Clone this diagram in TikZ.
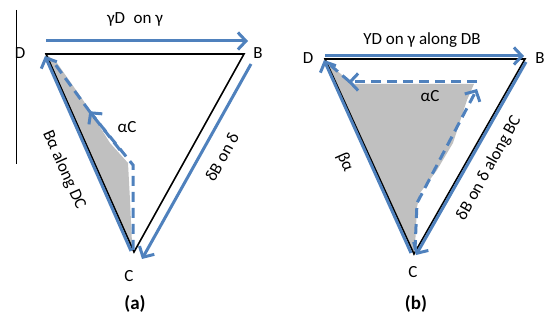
\documentclass[tikz,border=0pt]{standalone}
\usepackage{fontspec}
\setmainfont{Carlito}
\usetikzlibrary{arrows.meta, calc}
\definecolor{edgeblue}{HTML}{4F81BD}
\definecolor{shadegray}{HTML}{C0C0C0}

\begin{document}
\begin{tikzpicture}[x=1pt, y=-1pt,
    side/.style={draw=black, line width=1.6pt},
    bluearrow/.style={draw=edgeblue, line width=3pt, -{Straight Barb[length=8pt, width=17pt]}},
    dasharrow/.style={bluearrow, dash pattern=on 10pt off 6pt},
    lbl/.style={font=\fontsize{17}{19}\selectfont, inner sep=1pt},
    panelcap/.style={font=\fontsize{19}{21}\selectfont\bfseries}]
  \useasboundingbox (0,0) rectangle (546,320);

  % (a)
  \coordinate (aD) at (46,54);
  \coordinate (aB) at (244,54);
  \coordinate (aC) at (134,252);
  \draw[line width=1pt] (16,10) -- (16,164);
  \fill[shadegray] (aD) -- (57,63) -- (83,100) -- (110,143) -- (128,163)
    -- (130,200) -- (132,243) -- (aC) -- cycle;
  \draw[side] (aD) -- (aB) -- (aC) -- cycle;
  \draw[bluearrow] ($(aC)+(-3,-1)$) -- ($(aD)+(-1,2)$);
  \draw[bluearrow] ($(aD)+(0,-13)$) -- ($(aB)+(4,-13)$);
  \draw[bluearrow] ($(aB)+(7,10)$) -- ($(aC)+(8,7)$);
  \draw[dasharrow, -] ($(aC)+(-1,-2)$) -- (133,165) -- (90,112);
  \draw[dasharrow, shorten >=-1pt] (120,150) -- (90,112);
  \draw[dasharrow, -] (90,112) -- ($(aD)+(6,6)$);
  \node[lbl] (aDl) at (20,53) {D};
  \node[lbl] (aBl) at (258,53) {B};
  \node[lbl] (aCl) at (129,276) {C};
  \node[lbl] (aDB) at (135,19) {γD\enspace on γ};
  \node[lbl] (aAC) at (127,127) {αC};
  \node[lbl, rotate=-66] (aDC) at (64,170) {Bα along DC};
  \node[lbl, rotate=61] (aBC) at (222,157) {δB on δ};
  \node[panelcap] (acap) at (135,304) {(a)};

  % (b)
  \coordinate (bD) at (325,59);
  \coordinate (bB) at (525,59);
  \coordinate (bC) at (414,254);
  \fill[shadegray] ($(bD)+(2,3)$) -- (342,75) -- (352,84) -- (474,84) -- (467,100)
    -- (453,143) -- (437,170) -- (420,193) -- (417,207) -- (415,247) -- (bC) -- cycle;
  \draw[side] (bD) -- (bB) -- (bC) -- cycle;
  \draw[bluearrow] ($(bC)+(-3,-1)$) -- ($(bD)+(-1,1)$);
  \draw[bluearrow] ($(bD)+(0,-3)$) -- ($(bB)+(-1,-3)$);
  \draw[bluearrow] ($(bB)+(1,3)$) -- ($(bC)+(2,1)$);
  \draw[dasharrow] ($(bC)+(1,-4)$) -- (417,203) -- (477,89);
  \draw[dasharrow] (477,82) -- (348,82);
  \draw[dasharrow, -] (350,82) -- ($(bD)+(4,5)$);
  \node[lbl] (bDl) at (308,58) {D};
  \node[lbl] (bBl) at (540,58) {B};
  \node[lbl] (bCl) at (413,272) {C};
  \node[lbl] (bDB) at (422,40) {YD on γ along DB};
  \node[lbl] (bAC) at (430,96) {αC};
  \node[lbl, rotate=-66] (bDC) at (345,162) {βα};
  \node[lbl, rotate=61] (bBC) at (489,168) {δB on δ along BC};
  \node[panelcap] (bcap) at (416,304) {(b)};
\end{tikzpicture}
\end{document}
